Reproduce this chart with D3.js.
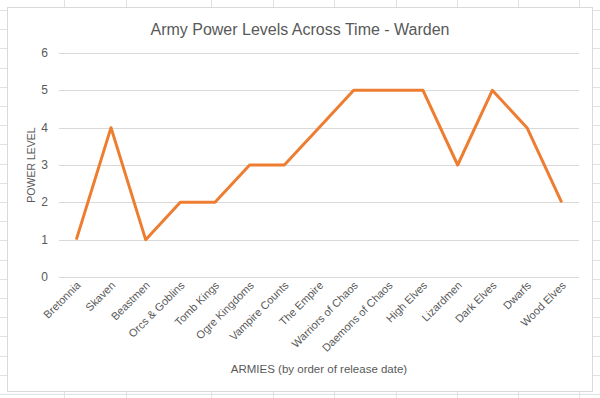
<!DOCTYPE html>
<html>
<head>
<meta charset="utf-8">
<script src="https://cdn.jsdelivr.net/npm/d3@7"></script>
<style>
  body { margin: 0; background: #fff; }
  text { font-family: "Liberation Sans", Arial, sans-serif; fill: #595959; }
</style>
</head>
<body>
<svg id="chart" width="600" height="398"></svg>
<script>
// armies in release order, with the warden's power level
const armies = ["Bretonnia", "Skaven", "Beastmen", "Orcs & Goblins", "Tomb Kings",
  "Ogre Kingdoms", "Vampire Counts", "The Empire", "Warriors of Chaos",
  "Daemons of Chaos", "High Elves", "Lizardmen", "Dark Elves", "Dwarfs", "Wood Elves"];
const power = [1, 4, 1, 2, 2, 3, 3, 4, 5, 5, 5, 3, 5, 4, 2];
const yTicks = [0, 1, 2, 3, 4, 5, 6];

// spreadsheet cells behind the chart
const colLines = [64, 126, 211, 273, 334, 396, 457, 518, 579];

const svg = d3.select("#chart");

// sheet grid
const sheet = svg.append("g").attr("stroke", "#e1e1e1").attr("stroke-width", 1);
for (const cx of colLines) {
  sheet.append("line").attr("x1", cx + .5).attr("x2", cx + .5).attr("y1", 0).attr("y2", 398);
}
for (let ry = 10; ry < 398; ry += 19.2) {
  sheet.append("line").attr("x1", 0).attr("x2", 600).attr("y1", Math.round(ry) + .5).attr("y2", Math.round(ry) + .5);
}

// chart box
svg.append("rect")
  .attr("x", 7.5).attr("y", 7.5)
  .attr("width", 585).attr("height", 384)
  .attr("fill", "#fff")
  .attr("stroke", "#d9d9d9");

let margin = {top: 53, left: 59, right: 579, bottom: 277};

let x = d3.scalePoint()
  .domain(armies)
  .range([margin.left, margin.right])
  .padding(0.5);

let y = d3.scaleLinear()
  .domain([0, 6])
  .range([margin.bottom, margin.top]);

// horizontal gridlines
svg.append("g")
  .selectAll("line")
  .data(yTicks)
  .enter()
  .append("line")
    .attr("x1", margin.left).attr("x2", margin.right)
    .attr("y1", d => Math.round(y(d)) + .5).attr("y2", d => Math.round(y(d)) + .5)
    .attr("stroke", "#d9d9d9");

// y tick labels
svg.append("g")
  .selectAll("text")
  .data(yTicks)
  .enter()
  .append("text")
    .attr("x", 48)
    .attr("y", d => y(d) + 4)
    .attr("text-anchor", "end")
    .style("font-size", "12px")
    .text(d => d);

// x tick labels, tilted
svg.append("g")
  .selectAll("text")
  .data(armies)
  .enter()
  .append("text")
    .attr("transform", d => `translate(${x(d) + 5},${margin.bottom + 9}) rotate(-45)`)
    .attr("text-anchor", "end")
    .style("font-size", "11px")
    .text(d => d);

// the line
svg.append("path")
  .datum(power)
  .attr("fill", "none")
  .attr("stroke", "#ED7D31")
  .attr("stroke-width", 3)
  .attr("stroke-linejoin", "round")
  .attr("d", d3.line()
    .x((d, i) => x(armies[i]))
    .y(d => y(d)));

// titles
svg.append("text")
  .attr("x", 300).attr("y", 35)
  .attr("text-anchor", "middle")
  .style("font-size", "16px")
  .text("Army Power Levels Across Time - Warden");

svg.append("text")
  .attr("x", (margin.left + margin.right) / 2).attr("y", 373)
  .attr("text-anchor", "middle")
  .style("font-size", "11.5px")
  .text("ARMIES (by order of release date)");

svg.append("text")
  .attr("transform", `translate(35,${(margin.top + margin.bottom) / 2}) rotate(-90)`)
  .attr("text-anchor", "middle")
  .style("font-size", "10.5px")
  .text("POWER LEVEL");
</script>
</body>
</html>
